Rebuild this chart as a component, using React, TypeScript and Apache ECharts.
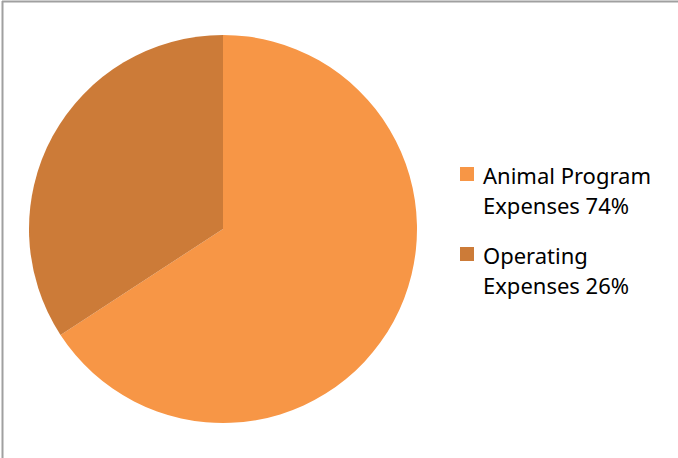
import React, { useEffect, useRef } from "react";
import * as echarts from "echarts";

const categories = ["Animal Program Expenses 74%", "Operating Expenses 26%"];
const legendLines = [["Animal Program", "Expenses 74%"], ["Operating", "Expenses 26%"]];
const values = [65.8, 34.2];
const colors = ["#F79646", "#CC7B38"];

export default function App() {
  const ref = useRef<HTMLDivElement>(null);
  useEffect(() => {
    const chart = echarts.init(ref.current!, null, { renderer: "svg" });
    const legendTop = [175, 255];
    const graphics: any[] = [
      { type: "line", shape: { x1: 2, y1: 1.5, x2: 678, y2: 1.5 }, style: { stroke: "#A0A0A0", lineWidth: 2 } },
      { type: "line", shape: { x1: 2.5, y1: 1, x2: 2.5, y2: 458 }, style: { stroke: "#A0A0A0", lineWidth: 2 } },
    ];
    legendLines.forEach((lines, i) => {
      graphics.push({ type: "rect", shape: { x: 460, y: legendTop[i] - 8, width: 14, height: 14 }, style: { fill: colors[i] } });
      lines.forEach((ln, j) => {
        graphics.push({
          type: "text",
          x: 483,
          y: legendTop[i] + j * 30,
          style: { text: ln, fill: "#000", font: "22px 'Noto Sans'", textVerticalAlign: "middle", textAlign: "left" },
        });
      });
    });
    chart.setOption({
      animation: false,
      backgroundColor: "#fff",
      graphic: graphics,
      series: [
        {
          type: "pie",
          center: [223, 229],
          radius: 194,
          startAngle: 90,
          clockwise: true,
          label: { show: false },
          labelLine: { show: false },
          emphasis: { disabled: true },
          itemStyle: { borderWidth: 0 },
          data: categories.map((name, i) => ({ name, value: values[i], itemStyle: { color: colors[i] } })),
        },
      ],
    });
    return () => chart.dispose();
  }, []);
  return <div ref={ref} style={{ position: "fixed", left: 0, top: 0, width: 678, height: 458 }} />;
}
